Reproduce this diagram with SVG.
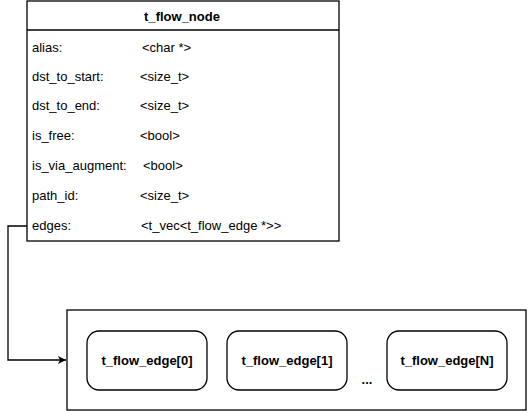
<svg xmlns="http://www.w3.org/2000/svg" width="528" height="411" viewBox="0 0 528 411">
<defs>
<style>
.box{fill:#fff;stroke:#000;stroke-width:1.3}
.t{font-family:"Liberation Sans",Arial,sans-serif;font-size:13px;fill:#000}
.b{font-family:"Liberation Sans",Arial,sans-serif;font-size:13px;font-weight:bold;fill:#000;text-anchor:middle}
.ln{fill:none;stroke:#000;stroke-width:1.3}
</style>
<marker id="arr" markerWidth="10" markerHeight="10" refX="8" refY="5" orient="auto" markerUnits="userSpaceOnUse">
<path d="M0,1 L8,5 L0,9 L2,5 Z" fill="#000"/>
</marker>
</defs>
<g id="t_flow_node">
<rect class="box" x="27" y="1" width="312" height="240"/>
<line class="ln" x1="27" y1="30" x2="339" y2="30"/>
<text class="b" x="182" y="21">t_flow_node</text>
<text class="t" x="32" y="52">alias:</text><text class="t" x="142" y="52">&lt;char *&gt;</text>
<text class="t" x="32" y="81">dst_to_start:</text><text class="t" x="140" y="81">&lt;size_t&gt;</text>
<text class="t" x="32" y="110">dst_to_end:</text><text class="t" x="140" y="110">&lt;size_t&gt;</text>
<text class="t" x="32" y="140">is_free:</text><text class="t" x="140" y="140">&lt;bool&gt;</text>
<text class="t" x="32" y="170">is_via_augment:</text><text class="t" x="143" y="170">&lt;bool&gt;</text>
<text class="t" x="32" y="200">path_id:</text><text class="t" x="140" y="200">&lt;size_t&gt;</text>
<text class="t" x="32" y="230">edges:</text><text class="t" x="141" y="230">&lt;t_vec&lt;t_flow_edge *&gt;&gt;</text>
</g>
<g id="edges_container">
<rect class="box" x="67" y="310" width="459" height="100"/>
</g>
<g id="edge0">
<rect class="box" x="87" y="331" width="120" height="59" rx="12"/>
<text class="b" x="147" y="365">t_flow_edge[0]</text>
</g>
<g id="edge1">
<rect class="box" x="227" y="331" width="120" height="59" rx="12"/>
<text class="b" x="287" y="365">t_flow_edge[1]</text>
</g>
<g id="edgeN">
<rect class="box" x="387" y="331" width="120" height="59" rx="12"/>
<text class="b" x="447" y="365">t_flow_edge[N]</text>
</g>
<g id="ellipsis">
<text class="b" x="367" y="384">...</text>
</g>
<g id="connectors">
<path class="ln" d="M27,226 H8 V360 H66" marker-end="url(#arr)"/>
</g>
</svg>
